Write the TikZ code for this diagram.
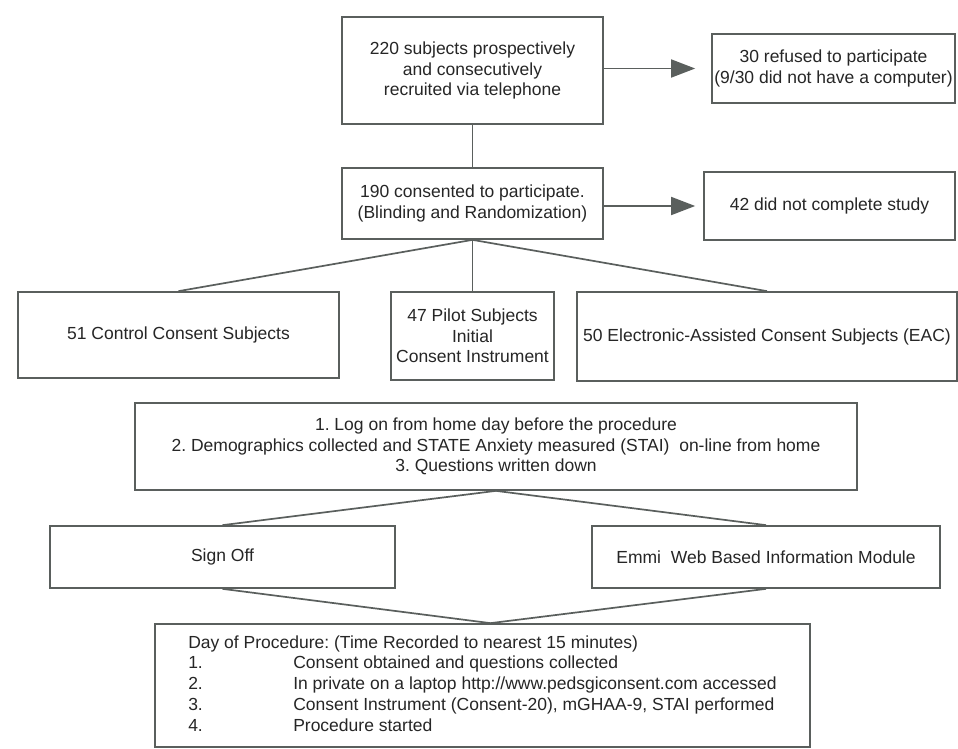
\documentclass[tikz,border=0pt]{standalone}
\usepackage{fontspec}
\setmainfont{Liberation Sans}
\usetikzlibrary{arrows.meta,calc}
\definecolor{linecol}{RGB}{90,95,93}
\definecolor{textcol}{RGB}{38,38,38}
\newcommand{\fsz}{\fontsize{17.5}{20.7}\selectfont\frenchspacing}
\frenchspacing
\begin{document}
\begin{tikzpicture}[x=1pt,y=-1pt,
  box/.style={draw=linecol, line width=1.7pt, inner sep=0pt, align=center, font=\fsz, text=textcol},
  conn/.style={draw=linecol, line width=1.7pt, line join=round},
  arr/.style={conn, -{Triangle[length=24pt,width=18pt]}}]
\useasboundingbox[fill=white] (0,0) rectangle (958,749);
\node[box, minimum width=261pt, minimum height=107pt] (A) at (472.5,70.5)
  {220 subjects prospectively\\and consecutively\\recruited via telephone};
\node[box, minimum width=243pt, minimum height=69pt] (B) at (833.5,68.5)
  {30 refused to participate\\(9/30 did not have a computer)};
\node[box, minimum width=261pt, minimum height=71pt] (C) at (472.5,203.5)
  {190 consented to participate.\\(Blinding and Randomization)};
\node[box, minimum width=251pt, minimum height=68pt] (D) at (829.5,206)
  {42 did not complete study};
\node[box, minimum width=321pt, minimum height=86pt] (Control) at (178.5,335)
  {51 Control Consent Subjects};
\node[box, minimum width=163pt, minimum height=88pt] (Pilot) at (472.5,336)
  {47 Pilot Subjects\\Initial\\Consent Instrument};
\node[box, minimum width=380pt, minimum height=89pt] (EAC) at (767,336.5)
  {50 Electronic-Assisted Consent Subjects (EAC)};
\node[box, minimum width=722pt, minimum height=87pt] (E) at (496,446.5)
  {1. Log on from home day before the procedure\\
   2. Demographics collected and STATE Anxiety measured (STAI)\ \ on-line from home\\
   3. Questions written down};
\node[box, minimum width=345pt, minimum height=62pt] (SignOff) at (222.5,557)
  {Sign Off};
\node[box, minimum width=348pt, minimum height=62pt] (Emmi) at (766,557)
  {Emmi\ \ Web Based Information Module};
\node[box, minimum width=655pt, minimum height=123pt, align=left] (F) at (482.5,685.5)
  {\begin{tabular}{@{}p{105pt}@{}l@{}}
   \multicolumn{2}{@{}l@{}}{Day of Procedure: (Time Recorded to nearest 15 minutes)}\\
   1. & Consent obtained and questions collected\\
   2. & In private on a laptop http://www.pedsgiconsent.com accessed\\
   3. & Consent Instrument (Consent-20), mGHAA-9, STAI performed\\
   4. & Procedure started
   \end{tabular}};
\draw[arr, shorten >=16pt] (A.east |- B.west) -- (B.west);
\draw[arr, shorten >=8pt] (C.east |- D.west) -- (D.west);
\draw[conn] (A.south) -- (C.north);
\draw[conn] (Control.north) -- (C.south) -- (EAC.north);
\draw[conn] (C.south) -- (Pilot.north);
\draw[conn] (SignOff.north) -- (E.south) -- (Emmi.north);
\draw[conn] (SignOff.south) -- ($(F.north)+(8,0)$) -- (Emmi.south);
\end{tikzpicture}
\end{document}
